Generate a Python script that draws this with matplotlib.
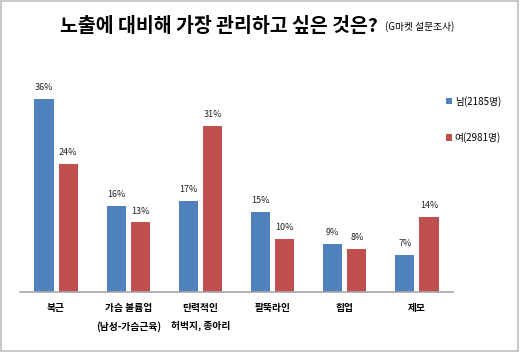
import matplotlib
matplotlib.use("Agg")
import matplotlib.pyplot as plt
import numpy as np
from matplotlib.patches import Rectangle

plt.rcParams['font.family'] = ['Noto Sans CJK KR', 'DejaVu Sans']

# data
categories = ["복근", "가슴 볼륨업\n(남성-가슴근육)", "탄력적인\n허벅지, 종아리", "팔뚝라인", "힙업", "제모"]
male = [36, 16, 17, 15, 9, 7]
female = [24, 13, 31, 10, 8, 14]
legend_labels = ["남(2185명)", "여(2981명)"]

blue = "#4F81BD"
red = "#C0504D"

fig = plt.figure(figsize=(5.2, 3.52), dpi=100)
ax = fig.add_axes([20 / 520, 60 / 352, 433 / 520, 214 / 352])

x = np.arange(len(categories))
w = 0.265
b1 = ax.bar(x - w / 2 - 0.035, male, w, color=blue, label=legend_labels[0])
b2 = ax.bar(x + w / 2 + 0.035, female, w, color=red, label=legend_labels[1])

for bars, vals in ((b1, male), (b2, female)):
    for bar, v in zip(bars, vals):
        ax.annotate(f"{v}%", (bar.get_x() + bar.get_width() / 2, v),
                    xytext=(0, 5), textcoords="offset points",
                    ha="center", va="bottom", fontsize=6.5, color="#222222",
                    fontweight="medium")

ax.set_xlim(-0.5, len(categories) - 0.5)
ax.set_ylim(0, 40)
ax.set_yticks([])
ax.set_xticks(x)
ax.set_xticklabels(categories, fontsize=7, fontweight="bold", linespacing=1.9)
ax.tick_params(axis="x", length=0, pad=8)
for s in ["top", "right", "left"]:
    ax.spines[s].set_visible(False)
ax.spines["bottom"].set_color("#a6a6a6")
ax.spines["bottom"].set_linewidth(1.2)

ax.legend(loc="upper left", bbox_to_anchor=(442 / 520, 1 - 92 / 352),
          bbox_transform=fig.transFigure, frameon=False, fontsize=7,
          handlelength=0.6, handleheight=0.6, handletextpad=0.3,
          labelspacing=2.6, borderaxespad=0)

fig.text(60 / 520, 1 - 26 / 352, "노출에 대비해 가장 관리하고 싶은 것은?",
         fontsize=14, fontweight="bold", va="center", ha="left")
fig.text(385 / 520, 1 - 27 / 352, "(G마켓 설문조사)", fontsize=7,
         va="center", ha="left")

# outer frame
fig.patches.append(Rectangle((0.002, 0.003), 0.995, 0.993, transform=fig.transFigure,
                             fill=False, edgecolor="#bfbfbf", linewidth=1.2))

fig.savefig("out.png", dpi=100)
